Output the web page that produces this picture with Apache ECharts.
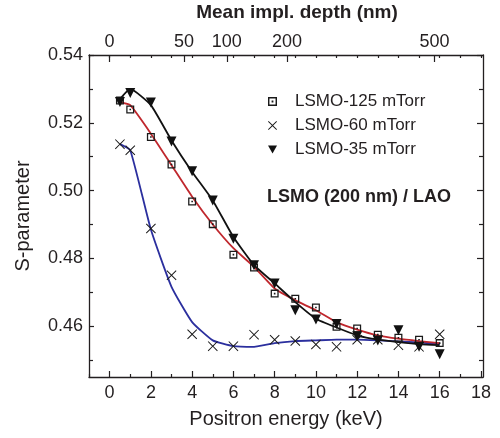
<!DOCTYPE html>
<html>
<head>
<meta charset="utf-8">
<script src="https://cdn.jsdelivr.net/npm/echarts@6/dist/echarts.min.js"></script>
<style>html,body{margin:0;padding:0;background:#fff}#c{width:500px;height:438px}</style>
</head>
<body>
<div id="c"></div>
<script>
// ---- data ----
const energy = [0.5,1,2,3,4,5,6,7,8,9,10,11,12,13,14,15,16];
const s125 = [0.5266,0.5239,0.5158,0.5077,0.4968,0.4901,0.4811,0.4773,0.4696,0.4681,0.4655,0.4598,0.4593,0.4575,0.4566,0.4560,0.4550];
const s60  = [0.5137,0.5119,0.4888,0.4750,0.4576,0.4541,0.4541,0.4575,0.4560,0.4556,0.4546,0.4539,0.4560,0.4560,0.4544,0.4539,0.4576];
const s35  = [0.5261,0.5288,0.5260,0.5145,0.5057,0.4971,0.4858,0.4780,0.4726,0.4647,0.4620,0.4606,0.4570,0.4558,0.4588,0.4539,0.4517];
const fit125 = [0.5261,0.5252,0.5168,0.5075,0.4982,0.4900,0.4830,0.4775,0.4711,0.4676,0.4647,0.4612,0.4590,0.4573,0.4563,0.4556,0.4550];
const fit60  = [0.5137,0.5119,0.4885,0.4716,0.4612,0.4558,0.4541,0.4539,0.4550,0.4556,0.4558,0.4560,0.4560,0.4558,0.4555,0.4552,0.4547];
const fit35  = [0.5270,0.5300,0.5252,0.5148,0.5055,0.4971,0.4863,0.4780,0.4726,0.4671,0.4622,0.4596,0.4573,0.4560,0.4553,0.4547,0.4544];
const seriesNames = ['LSMO-125 mTorr','LSMO-60 mTorr','LSMO-35 mTorr'];
const xTicks = [0,2,4,6,8,10,12,14,16,18];
const xMinorTicks = [-1,1,3,5,7,9,11,13,15,17];
const yTicks = [0.46,0.48,0.50,0.52,0.54];
const yMinorTicks = [0.45,0.47,0.49,0.51,0.53];
const depthLabels = ['0','50','100','200','500'];
const depthEnergy = [0,3.6,5.68,8.6,15.75];
const topMinorTicks = [-1,0,1,2,3,4,5,6,7,8,9,10,11,12,13,14,15,16,17,18];

// ---- style ----
const FONT = 'Liberation Sans, Arial, Helvetica, sans-serif';
const TXT = '#231f20';
const SQ = 'path://M0,0L10,0L10,10L0,10Z M1.6,1.6L1.6,8.4L8.4,8.4L8.4,1.6Z M4,4L6,4L6,6L4,6Z';
const XS = 'path://M0,0.7L0.7,0L5,4.3L9.3,0L10,0.7L5.7,5L10,9.3L9.3,10L5,5.7L0.7,10L0,9.3L4.3,5Z';
const TRI = 'path://M0,0L10,0L5,9Z';
const pair = (ys) => energy.map((e,i) => [e, ys[i]]);
const XMIN = -1, XMAX = 18.1, YMIN = 0.445, YMAX = 0.54;
const axisLine = {show:true, onZero:false, lineStyle:{color:TXT, width:1.3}};
const noLine = {show:false, onZero:false};
const tickAxisX = (pos, vals, len) => ({type:'value', position:pos, min:XMIN, max:XMAX,
  axisLine:noLine, axisLabel:{show:false}, splitLine:{show:false},
  axisTick:{show:true, inside:true, length:len, customValues:vals, lineStyle:{color:TXT, width:1.2}}});
const tickAxisY = (pos, vals, len) => ({type:'value', position:pos, min:YMIN, max:YMAX,
  axisLine:noLine, axisLabel:{show:false}, splitLine:{show:false},
  axisTick:{show:true, inside:true, length:len, customValues:vals, lineStyle:{color:TXT, width:1.2}}});

const chart = echarts.init(document.getElementById('c'), null, {renderer:'canvas'});
chart.setOption({
  animation:false,
  backgroundColor:'#fff',
  textStyle:{fontFamily:FONT},
  grid:{left:89, right:17, top:55, bottom:61, containLabel:false, outerBoundsMode:'none'},
  legend:{
    orient:'vertical', left:263, top:88, itemGap:7, itemWidth:9, itemHeight:9,
    textStyle:{fontFamily:FONT, fontSize:17, color:TXT, padding:[0,0,0,13]},
    data:[{name:seriesNames[0], icon:SQ},{name:seriesNames[1], icon:XS},{name:seriesNames[2], icon:TRI}]
  },
  xAxis:[
    {type:'value', position:'bottom', min:XMIN, max:XMAX,
     name:'Positron energy (keV)', nameLocation:'middle', nameGap:32,
     nameTextStyle:{fontFamily:FONT, fontSize:20, color:TXT},
     axisLine:axisLine, axisTick:{show:false},
     axisLabel:{show:true, customValues:xTicks, margin:7, fontSize:18, color:TXT, fontFamily:FONT},
     splitLine:{show:false}},
    tickAxisX('bottom', xTicks, 6),
    tickAxisX('bottom', xMinorTicks, 3),
    {type:'value', position:'top', min:XMIN, max:XMAX,
     name:'Mean impl. depth (nm)', nameLocation:'middle', nameGap:33,
     nameTextStyle:{fontFamily:FONT, fontSize:19, fontWeight:'bold', color:TXT, padding:[0,0,0,22]},
     axisLine:axisLine, axisTick:{show:false},
     axisLabel:{show:true, customValues:depthEnergy, margin:4, fontSize:18, color:TXT, fontFamily:FONT,
       formatter:(v)=>{const i = depthEnergy.findIndex(d=>Math.abs(d-v)<1e-6); return i>=0?depthLabels[i]:'';}},
     splitLine:{show:false}},
    tickAxisX('top', depthEnergy, 7),
    tickAxisX('top', topMinorTicks, 3)
  ],
  yAxis:[
    {type:'value', position:'left', min:YMIN, max:YMAX,
     name:'S-parameter', nameLocation:'middle', nameGap:56,
     nameTextStyle:{fontFamily:FONT, fontSize:20, color:TXT},
     axisLine:axisLine, axisTick:{show:false},
     axisLabel:{show:true, customValues:yTicks, margin:6, fontSize:18, color:TXT, fontFamily:FONT, formatter:(v)=>v.toFixed(2)},
     splitLine:{show:false}},
    tickAxisY('left', yTicks, 5),
    tickAxisY('left', yMinorTicks, 4),
    {type:'value', position:'right', min:YMIN, max:YMAX,
     axisLine:axisLine, axisTick:{show:false}, axisLabel:{show:false}, splitLine:{show:false}},
    tickAxisY('right', yTicks, 6),
    tickAxisY('right', yMinorTicks, 4)
  ],
  graphic:[
    {type:'text', left:267, top:188, style:{text:'LSMO (200 nm) / LAO', font:'bold 18px '+FONT, fill:TXT}}
  ],
  series:[
    {type:'line', data:pair(fit60), xAxisIndex:0, yAxisIndex:0, smooth:0.15, symbol:'none',
     lineStyle:{color:'#2b2f9e', width:1.8}, z:2},
    {type:'line', data:pair(fit125), xAxisIndex:0, yAxisIndex:0, smooth:0.15, symbol:'none',
     lineStyle:{color:'#c0272d', width:1.8}, z:2},
    {type:'line', data:pair(fit35), xAxisIndex:0, yAxisIndex:0, smooth:0.15, symbol:'none',
     lineStyle:{color:'#111', width:1.8}, z:2},
    {name:seriesNames[0], type:'scatter', data:pair(s125), symbol:SQ, symbolSize:8,
     itemStyle:{color:'#1a1a1a', opacity:1}, z:3},
    {name:seriesNames[1], type:'scatter', data:pair(s60), symbol:XS, symbolSize:10,
     itemStyle:{color:'#1a1a1a', opacity:1}, z:3},
    {name:seriesNames[2], type:'scatter', data:pair(s35), symbol:TRI, symbolSize:10,
     itemStyle:{color:'#111', opacity:1}, z:3}
  ]
});
</script>
</body>
</html>
